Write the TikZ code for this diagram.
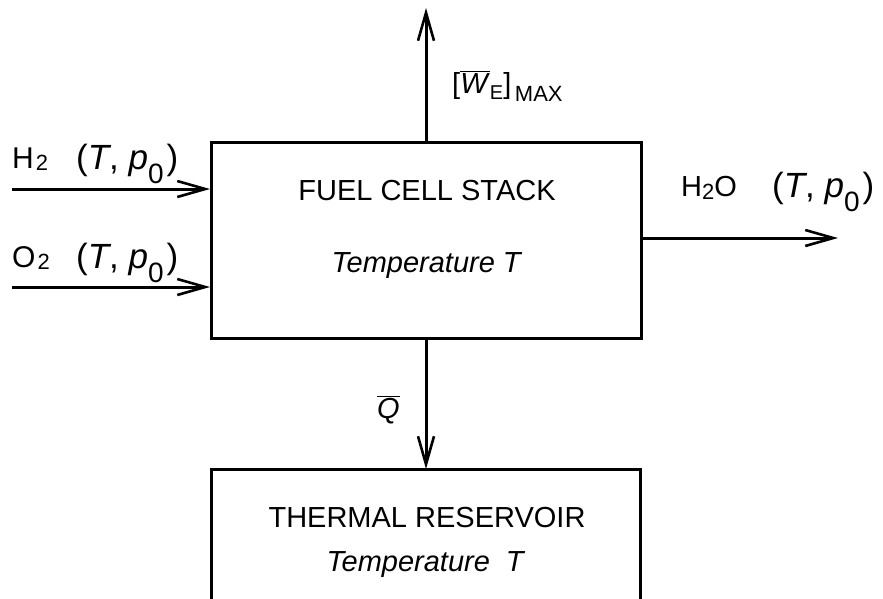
\documentclass[tikz,border=0pt]{standalone}
\usepackage{fontspec}
\setmainfont{Liberation Sans}
\usetikzlibrary{arrows.meta}
\newcommand{\tp}{\fontsize{35}{37}\selectfont(\textit{T}, \textit{p}\raisebox{-14pt}{\fontsize{28}{30}\selectfont 0}\hspace{3pt})}
\newcommand{\subtwo}{\hspace{2pt}\raisebox{-2pt}{\fontsize{22}{24}\selectfont 2}}
\begin{document}
\begin{tikzpicture}[x=1pt,y=-1pt,
  box/.style={draw,line width=3pt},
  flow/.style={line width=3pt,-{Straight Barb[length=28pt,width=16pt,line width=2.6pt]}},
  lab/.style={inner sep=0pt,font=\fontsize{29}{31}\selectfont},
  sublab/.style={inner sep=0pt,font=\fontsize{30}{32}\selectfont}]
\useasboundingbox (0,0) rectangle (883,598);
\node[box,minimum width=430pt,minimum height=196pt,anchor=north west] (stack) at (210,141) {};
\draw[line width=3pt] (211,600) -- (211,469) -- (640,469) -- (640,600);
\coordinate (res) at (426,469);
\node[lab,anchor=base] (t1) at (427,200) {FUEL CELL STACK};
\node[lab,anchor=base] (t2) at (427,272) {\textit{Temperature T}};
\node[lab,anchor=base] (t3) at (427,527) {THERMAL RESERVOIR};
\node[lab,anchor=base] (t4) at (426,571) {\textit{Temperature\ \ T}};
\coordinate (h2s) at (12,189);
\coordinate (o2s) at (12,287);
\coordinate (h2oe) at (838,238);
\coordinate (wtop) at (426,8);
\draw[flow] (h2s) -- (h2s -| stack.west);
\draw[flow] (o2s) -- (o2s -| stack.west);
\draw[flow] (h2oe -| stack.east) -- (h2oe);
\draw[flow] (426,141) -- (wtop);
\draw[flow] (426,337) -- (res);
\node[sublab,anchor=base west] (h2) at (12,168) {H\subtwo};
\node[inner sep=0pt,anchor=base west] (h2tp) at (76,169) {\tp};
\node[sublab,anchor=base west] (o2) at (12,267) {O\subtwo};
\node[inner sep=0pt,anchor=base west] (o2tp) at (76,268) {\tp};
\node[lab,anchor=base west] (h2o) at (681,196) {H\raisebox{-3pt}{\fontsize{22}{24}\selectfont 2}O};
\node[inner sep=0pt,anchor=base west] (h2otp) at (772,197) {\tp};
\node[inner sep=0pt,anchor=base west,font=\fontsize{29}{31}\selectfont] (w) at (452,93) {[$\overline{\mbox{\textit{W}}}$\raisebox{-6pt}{\fontsize{20}{22}\selectfont E}]\raisebox{-8pt}{\fontsize{22}{24}\selectfont\,MAX}};
\node[inner sep=0pt,anchor=base west,font=\fontsize{29}{31}\selectfont] (q) at (377,418) {$\overline{\mbox{\textit{Q}}}$};
\end{tikzpicture}
\end{document}
